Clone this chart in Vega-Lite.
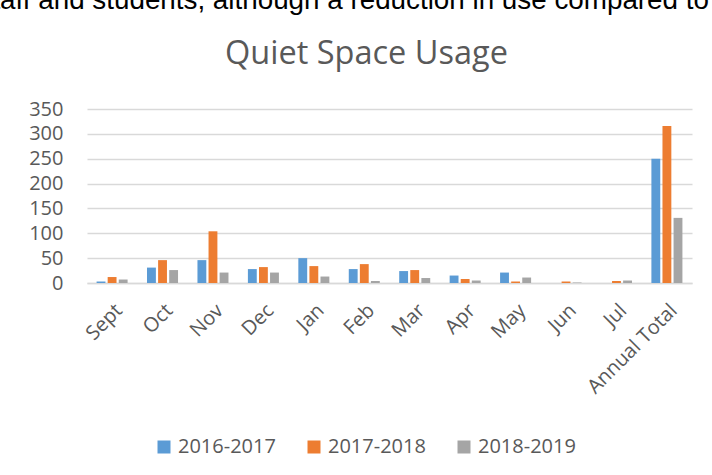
{
  "$schema": "https://vega.github.io/schema/vega-lite/v6.json",
  "autosize": "none",
  "width": 605,
  "height": 174,
  "padding": {"left": 87, "top": 109, "right": 20, "bottom": 192},
  "background": "white",
  "data": {
    "values": [
      {"month": "Sept", "year": "2016-2017", "value": 3},
      {"month": "Sept", "year": "2017-2018", "value": 12},
      {"month": "Sept", "year": "2018-2019", "value": 7},
      {"month": "Oct", "year": "2016-2017", "value": 31},
      {"month": "Oct", "year": "2017-2018", "value": 46},
      {"month": "Oct", "year": "2018-2019", "value": 26},
      {"month": "Nov", "year": "2016-2017", "value": 46},
      {"month": "Nov", "year": "2017-2018", "value": 104},
      {"month": "Nov", "year": "2018-2019", "value": 21},
      {"month": "Dec", "year": "2016-2017", "value": 28},
      {"month": "Dec", "year": "2017-2018", "value": 32},
      {"month": "Dec", "year": "2018-2019", "value": 21},
      {"month": "Jan", "year": "2016-2017", "value": 50},
      {"month": "Jan", "year": "2017-2018", "value": 34},
      {"month": "Jan", "year": "2018-2019", "value": 13},
      {"month": "Feb", "year": "2016-2017", "value": 28},
      {"month": "Feb", "year": "2017-2018", "value": 38},
      {"month": "Feb", "year": "2018-2019", "value": 4},
      {"month": "Mar", "year": "2016-2017", "value": 24},
      {"month": "Mar", "year": "2017-2018", "value": 26},
      {"month": "Mar", "year": "2018-2019", "value": 10},
      {"month": "Apr", "year": "2016-2017", "value": 15},
      {"month": "Apr", "year": "2017-2018", "value": 8},
      {"month": "Apr", "year": "2018-2019", "value": 5},
      {"month": "May", "year": "2016-2017", "value": 21},
      {"month": "May", "year": "2017-2018", "value": 3},
      {"month": "May", "year": "2018-2019", "value": 11},
      {"month": "Jun", "year": "2016-2017", "value": 0},
      {"month": "Jun", "year": "2017-2018", "value": 3},
      {"month": "Jun", "year": "2018-2019", "value": 1},
      {"month": "Jul", "year": "2016-2017", "value": 0},
      {"month": "Jul", "year": "2017-2018", "value": 4},
      {"month": "Jul", "year": "2018-2019", "value": 5},
      {"month": "Annual Total", "year": "2016-2017", "value": 250},
      {"month": "Annual Total", "year": "2017-2018", "value": 316},
      {"month": "Annual Total", "year": "2018-2019", "value": 131}
    ]
  },
  "mark": {"type": "bar"},
  "encoding": {
    "x": {
      "field": "month",
      "type": "nominal",
      "sort": ["Sept", "Oct", "Nov", "Dec", "Jan", "Feb", "Mar", "Apr", "May", "Jun", "Jul", "Annual Total"],
      "scale": {"paddingInner": 0.385, "paddingOuter": 0.19},
      "axis": {
        "title": "Quiet Space Usage",
        "titleAngle": 0,
        "titleAlign": "center",
        "titleBaseline": "alphabetic",
        "titleX": 279,
        "titleY": -220,
        "titleFont": "Open Sans",
        "titleFontSize": 32.5,
        "titleFontWeight": "normal",
        "titleColor": "#595959",
        "labelAngle": -45,
        "labelFont": "Open Sans",
        "labelFontSize": 20,
        "labelColor": "#595959",
        "labelPadding": 17,
        "ticks": false,
        "domain": true,
        "domainColor": "#D9D9D9",
        "domainWidth": 1.5,
        "grid": false
      }
    },
    "xOffset": {
      "field": "year",
      "type": "nominal",
      "scale": {"paddingInner": 0.2}
    },
    "y": {
      "field": "value",
      "type": "quantitative",
      "scale": {"domain": [0, 350], "nice": false},
      "axis": {
        "title": "staff and students, although a reduction in use compared to",
        "titleAngle": 0,
        "titleAlign": "left",
        "titleBaseline": "alphabetic",
        "titleX": -109,
        "titleY": -101,
        "titleFont": "Liberation Sans",
        "titleFontSize": 27.8,
        "titleFontWeight": "normal",
        "titleColor": "#000000",
        "values": [0, 50, 100, 150, 200, 250, 300, 350],
        "labelFont": "Open Sans",
        "labelFontSize": 20,
        "labelColor": "#595959",
        "labelPadding": 24,
        "ticks": false,
        "domain": false,
        "gridColor": "#D9D9D9",
        "gridWidth": 1.5
      }
    },
    "color": {
      "field": "year",
      "type": "nominal",
      "scale": {"domain": ["2016-2017", "2017-2018", "2018-2019"], "range": ["#5B9BD5", "#ED7D31", "#A5A5A5"]},
      "legend": {
        "title": null,
        "orient": "none",
        "legendX": 67,
        "legendY": 328,
        "direction": "horizontal",
        "symbolType": "square",
        "symbolSize": 169,
        "symbolStrokeWidth": 0,
        "labelFont": "Open Sans",
        "labelFontSize": 20,
        "labelColor": "#595959",
        "columnPadding": 28,
        "labelOffset": 4
      }
    }
  },
  "config": {
    "view": {"stroke": null},
    "axis": {"labelOverlap": false}
  }
}
